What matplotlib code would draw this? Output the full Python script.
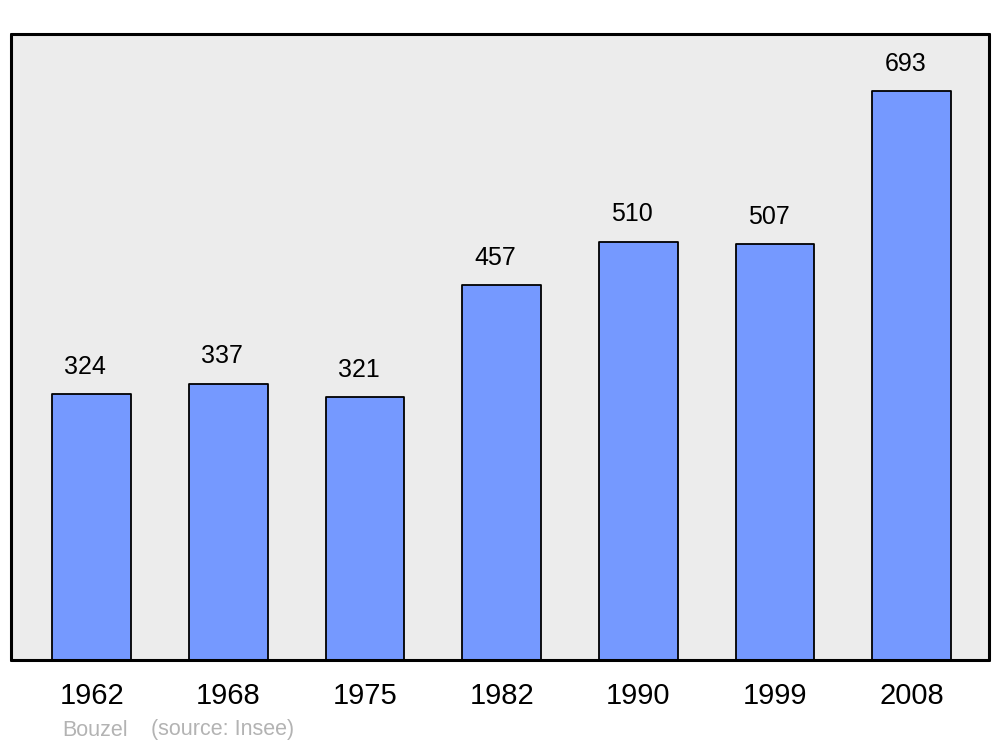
import matplotlib
matplotlib.use("Agg")
import matplotlib.pyplot as plt

plt.rcParams['font.family'] = ['Liberation Sans', 'DejaVu Sans']

# Population de Bouzel
years = ['1962', '1968', '1975', '1982', '1990', '1999', '2008']
population = [324, 337, 321, 457, 510, 507, 693]

fig = plt.figure(figsize=(10, 7.47), dpi=100)
ax = fig.add_axes([0.011, 1 - 660 / 747, 0.978, 626 / 747])
ax.set_facecolor('#ececec')

x = range(len(years))
bars = ax.bar(x, population, width=0.575, color='#7599ff',
              edgecolor='black', linewidth=1.3, zorder=2)
for b in bars:
    b.set_joinstyle('round')

for xi, v in zip(x, population):
    ax.annotate(str(v), (xi, v), xytext=(-4.5, 19.5), textcoords='offset points',
                ha='center', va='center', fontsize=18)

ax.set_xlim(-0.59, 6.565)
ax.set_ylim(0, 763)
ax.set_xticks(list(x))
ax.set_xticklabels(years, fontsize=21)
ax.set_yticks([])
ax.tick_params(axis='x', length=0, pad=16)
for s in ax.spines.values():
    s.set_linewidth(2.2)
    s.set_capstyle('round')
    s.set_joinstyle('round')

fig.text(0.062, 1 - 730 / 747, 'Bouzel', color='#b3b3b3', fontsize=15.5, va='center')
fig.text(0.151, 1 - 730 / 747, '(source: Insee)', color='#b3b3b3', fontsize=15.5, va='center')

fig.savefig('out.png', dpi=100)
